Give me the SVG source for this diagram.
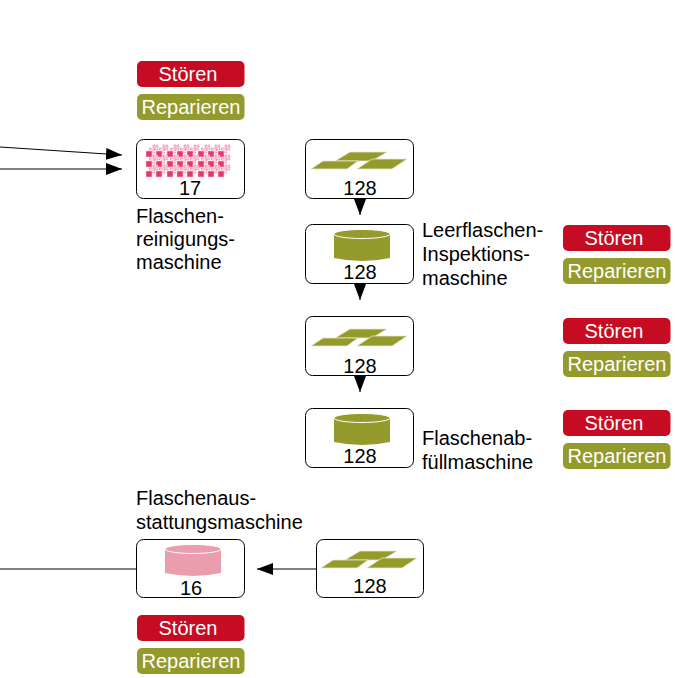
<svg xmlns="http://www.w3.org/2000/svg" width="675" height="678" viewBox="0 0 675 678">
<style>
text{font-family:"Liberation Sans",Arial,sans-serif;font-size:20px;fill:#000}
.m{text-anchor:middle}
.w{fill:#fff;text-anchor:middle}
.box{fill:#fff;stroke:#000;stroke-width:1}
.c{stroke:#000;stroke-width:1;fill:none}
.r{fill:#c60c23}
.g{fill:#949a2c}
</style>
<defs>
<marker id="a" markerUnits="userSpaceOnUse" markerWidth="16" markerHeight="12" refX="16" refY="6" orient="auto"><path d="M0 0L16 6L0 12Z" fill="#000"/></marker>
<g id="plates"><g fill="#949a2c" stroke="#e8e9cc" stroke-width=".8"><path d="M24 9L39 0H76L61 9Z"/><path d="M0 17L12 9H47L36 17Z"/><path d="M46 17L61 7H96L81 17Z"/></g></g>
<g id="cyl"><path d="M0 5V29Q28 35 56 29V5Z" fill="currentColor"/><ellipse cx="28" cy="5" rx="28" ry="4.500" fill="currentColor" stroke="#fff" stroke-width="1"/></g>
<g id="cube"><rect x="7" y="-6" width="5" height="5" fill="#f9c4d5" stroke="#f08aaa" stroke-width=".7" stroke-dasharray="2 1"/><rect x="3.500" y="-3" width="5" height="5" fill="#fbd3e0" stroke="#ee7da0" stroke-width=".7" stroke-dasharray="2 1"/><rect x="0" y="0" width="6" height="6" fill="#e8366d" stroke="#f9c6d6" stroke-width=".6"/></g>
<g id="stoer"><rect width="107.500" height="26" rx="5" class="r"/><text x="51" y="20" class="w">Stören</text></g>
<g id="rep"><rect width="107.500" height="26" rx="5" class="g"/><text x="54" y="20" class="w">Reparieren</text></g>
</defs>
<g id="connectors">
<path d="M0 147L122 155" class="c" marker-end="url(#a)"/>
<path d="M0 169H122" class="c" marker-end="url(#a)"/>
<path d="M360 199V215" class="c" marker-end="url(#a)"/>
<path d="M360 284V300" class="c" marker-end="url(#a)"/>
<path d="M360 376V392" class="c" marker-end="url(#a)"/>
<path d="M316 569H257" class="c" marker-end="url(#a)"/>
<path d="M136 569H0" class="c"/>
</g>
<g id="n1"><rect x="136.500" y="139.500" width="108" height="59" rx="7" class="box"/>
<g id="cubes">
<use href="#cube" x="146" y="151"/><use href="#cube" x="156" y="151"/><use href="#cube" x="167" y="151"/><use href="#cube" x="177" y="151"/><use href="#cube" x="187" y="151"/><use href="#cube" x="198" y="151"/><use href="#cube" x="208" y="151"/><use href="#cube" x="218" y="151"/>
<use href="#cube" x="146" y="161"/><use href="#cube" x="156" y="161"/><use href="#cube" x="167" y="161"/><use href="#cube" x="177" y="161"/><use href="#cube" x="187" y="161"/><use href="#cube" x="198" y="161"/><use href="#cube" x="208" y="161"/><use href="#cube" x="218" y="161"/>
<use href="#cube" x="146" y="171"/><use href="#cube" x="156" y="171"/><use href="#cube" x="167" y="171"/><use href="#cube" x="177" y="171"/><use href="#cube" x="187" y="171"/><use href="#cube" x="198" y="171"/><use href="#cube" x="208" y="171"/><use href="#cube" x="218" y="171"/>
</g>
<text x="190" y="195" class="m">17</text>
<text x="136" y="223">Flaschen-</text><text x="136" y="246">reinigungs-</text><text x="136" y="269">maschine</text></g>
<g id="n2"><rect x="305.500" y="139.500" width="108" height="59" rx="7" class="box"/><use href="#plates" x="311" y="152"/><text x="360" y="195" class="m">128</text></g>
<g id="n3"><rect x="305.500" y="224.500" width="108" height="59" rx="7" class="box"/><use href="#cyl" x="334" y="229" color="#949a2c"/><text x="360" y="279" class="m">128</text>
<text x="422" y="237">Leerflaschen-</text><text x="422" y="261">Inspektions-</text><text x="422" y="285">maschine</text></g>
<g id="n4"><rect x="305.500" y="316.500" width="108" height="59" rx="7" class="box"/><use href="#plates" x="311" y="329"/><text x="360" y="373" class="m">128</text></g>
<g id="n5"><rect x="305.500" y="408.500" width="108" height="59" rx="7" class="box"/><use href="#cyl" x="334" y="413" color="#949a2c"/><text x="360" y="463" class="m">128</text>
<text x="422" y="445">Flaschenab-</text><text x="422" y="469">füllmaschine</text></g>
<g id="n6"><rect x="136.500" y="539.500" width="108" height="58" rx="7" class="box"/><use href="#cyl" x="165" y="544" color="#ea9dac"/><text x="191" y="595" class="m">16</text>
<text x="136" y="505">Flaschenaus-</text><text x="136" y="529">stattungsmaschine</text></g>
<g id="n7"><rect x="316.500" y="539.500" width="107" height="58" rx="7" class="box"/><use href="#plates" x="321" y="551"/><text x="370" y="593" class="m">128</text></g>
<g id="buttons">
<use href="#stoer" x="137" y="61"/><use href="#rep" x="137" y="94"/>
<use href="#stoer" x="563" y="225"/><use href="#rep" x="563" y="258"/>
<use href="#stoer" x="563" y="318"/><use href="#rep" x="563" y="351"/>
<use href="#stoer" x="563" y="410"/><use href="#rep" x="563" y="443"/>
<use href="#stoer" x="137" y="615"/><use href="#rep" x="137" y="648"/>
</g>
</svg>
